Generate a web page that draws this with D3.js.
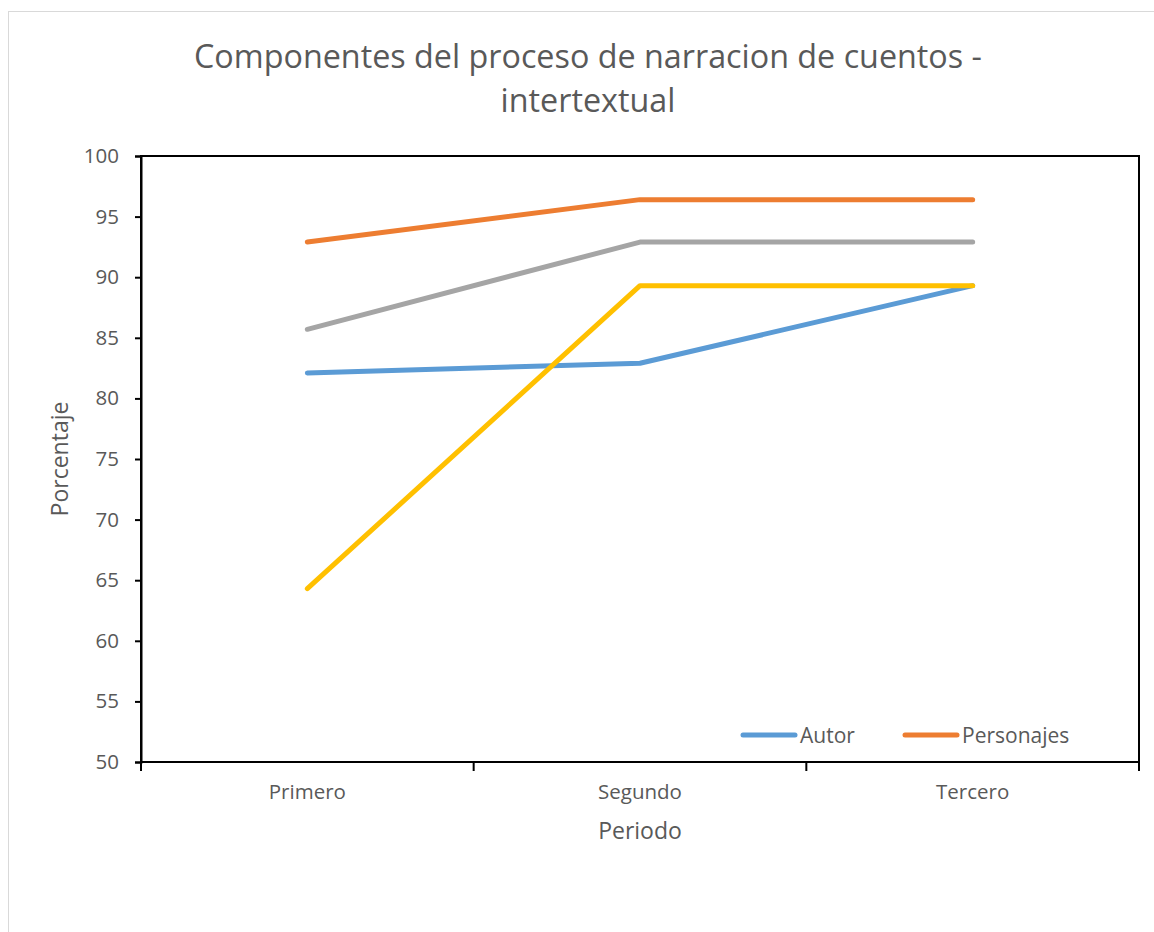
<!DOCTYPE html>
<html>
<head>
<meta charset="utf-8">
<script src="https://cdn.jsdelivr.net/npm/d3@7"></script>
<style>
  html, body { margin: 0; padding: 0; background: #fff; }
  svg { display: block; }
  text { font-family: "Open Sans", "Noto Sans", "Liberation Sans", sans-serif; fill: #595959; }
</style>
</head>
<body>
<svg id="chart" width="1154" height="932"></svg>
<script>
// Periods on the x axis
const categories = ["Primero", "Segundo", "Tercero"];

// Percentage per period for each component
const autor      = [82.1, 82.9, 89.3];
const personajes = [92.9, 96.4, 96.4];
const serie3     = [85.7, 92.9, 92.9];
const serie4     = [64.3, 89.3, 89.3];

const seriesNames  = ["Autor", "Personajes", "Serie3", "Serie4"];
const seriesValues = [autor, personajes, serie3, serie4];
const seriesColors = ["#5B9BD5", "#ED7D31", "#A5A5A5", "#FFC000"];

// Only these entries fit in the legend
const legendNames = ["Autor", "Personajes"];

const yTicks = [50, 55, 60, 65, 70, 75, 80, 85, 90, 95, 100];

const titleLines = ["Componentes del proceso de narracion de cuentos -", "intertextual"];
const xTitle = "Periodo";
const yTitle = "Porcentaje";

const svg = d3.select("#chart");

// Chart frame
svg.append("rect")
  .attr("x", 8.5).attr("y", 11.5)
  .attr("width", 1160).attr("height", 940)
  .attr("fill", "#fff").attr("stroke", "#D9D9D9").attr("stroke-width", 1);

const plot = { left: 141, top: 156, right: 1139, bottom: 762 };

const x = d3.scaleBand()
  .domain(categories)
  .range([plot.left, plot.right]);

const y = d3.scaleLinear()
  .domain([50, 100])
  .range([plot.bottom, plot.top]);

// Title
const title = svg.append("text")
  .attr("x", 588).attr("y", 68)
  .attr("text-anchor", "middle")
  .style("font-size", "32.3px");
titleLines.forEach((t, i) => {
  title.append("tspan").attr("x", 588).attr("dy", i === 0 ? 0 : 44).text(t);
});

// Plot area border
svg.append("rect")
  .attr("x", plot.left).attr("y", plot.top)
  .attr("width", plot.right - plot.left).attr("height", plot.bottom - plot.top)
  .attr("fill", "none").attr("stroke", "#000").attr("stroke-width", 2);

// Y axis
const yAxis = svg.append("g")
  .attr("transform", `translate(${plot.left},0)`)
  .call(d3.axisLeft(y).tickValues(yTicks).tickSize(6).tickPadding(16));
yAxis.select(".domain").attr("stroke", "#000").attr("stroke-width", 2);
yAxis.selectAll(".tick line").attr("stroke", "#000").attr("stroke-width", 2);
yAxis.selectAll(".tick text")
  .style("font-size", "20.5px")
  .style("font-family", "'Open Sans', 'Noto Sans', sans-serif")
  .attr("fill", "#595959");

// X axis with ticks on category boundaries
const xAxis = svg.append("g")
  .attr("transform", `translate(0,${plot.bottom})`);
xAxis.append("path")
  .attr("d", `M${plot.left},0H${plot.right}`)
  .attr("stroke", "#000").attr("stroke-width", 2);
const bounds = categories.map(c => x(c)).concat([x(categories[categories.length - 1]) + x.bandwidth()]);
xAxis.selectAll("line.tick")
  .data(bounds)
  .join("line")
  .attr("class", "tick")
  .attr("x1", d => d).attr("x2", d => d)
  .attr("y1", 0).attr("y2", 9)
  .attr("stroke", "#000").attr("stroke-width", 2);
xAxis.selectAll("text.cat")
  .data(categories)
  .join("text")
  .attr("class", "cat")
  .attr("x", d => x(d) + x.bandwidth() / 2)
  .attr("y", 37)
  .attr("text-anchor", "middle")
  .style("font-size", "20.5px")
  .text(d => d);

// Axis titles
svg.append("text")
  .attr("x", (plot.left + plot.right) / 2).attr("y", 839)
  .attr("text-anchor", "middle")
  .style("font-size", "23px")
  .text(xTitle);

svg.append("text")
  .attr("transform", `translate(68,${(plot.top + plot.bottom) / 2}) rotate(-90)`)
  .attr("text-anchor", "middle")
  .style("font-size", "23px")
  .text(yTitle);

// Lines
const line = d3.line()
  .x((d, i) => x(categories[i]) + x.bandwidth() / 2)
  .y(d => y(d));

const drawOrder = [0, 1, 2, 3];
svg.append("g").selectAll("path")
  .data(drawOrder)
  .join("path")
  .attr("d", i => line(seriesValues[i]))
  .attr("fill", "none")
  .attr("stroke", i => seriesColors[i])
  .attr("stroke-width", 5)
  .attr("stroke-linecap", "round")
  .attr("stroke-linejoin", "round");

// Legend
const legendX = [743, 905];
const legend = svg.append("g").selectAll("g")
  .data(legendNames)
  .join("g")
  .attr("transform", (d, i) => `translate(${legendX[i]},735)`);
legend.append("line")
  .attr("x1", 0).attr("x2", 52)
  .attr("y1", 0).attr("y2", 0)
  .attr("stroke", d => seriesColors[seriesNames.indexOf(d)])
  .attr("stroke-width", 5)
  .attr("stroke-linecap", "round");
legend.append("text")
  .attr("x", 57).attr("y", 7.5)
  .style("font-size", "21px")
  .text(d => d);
</script>
</body>
</html>
